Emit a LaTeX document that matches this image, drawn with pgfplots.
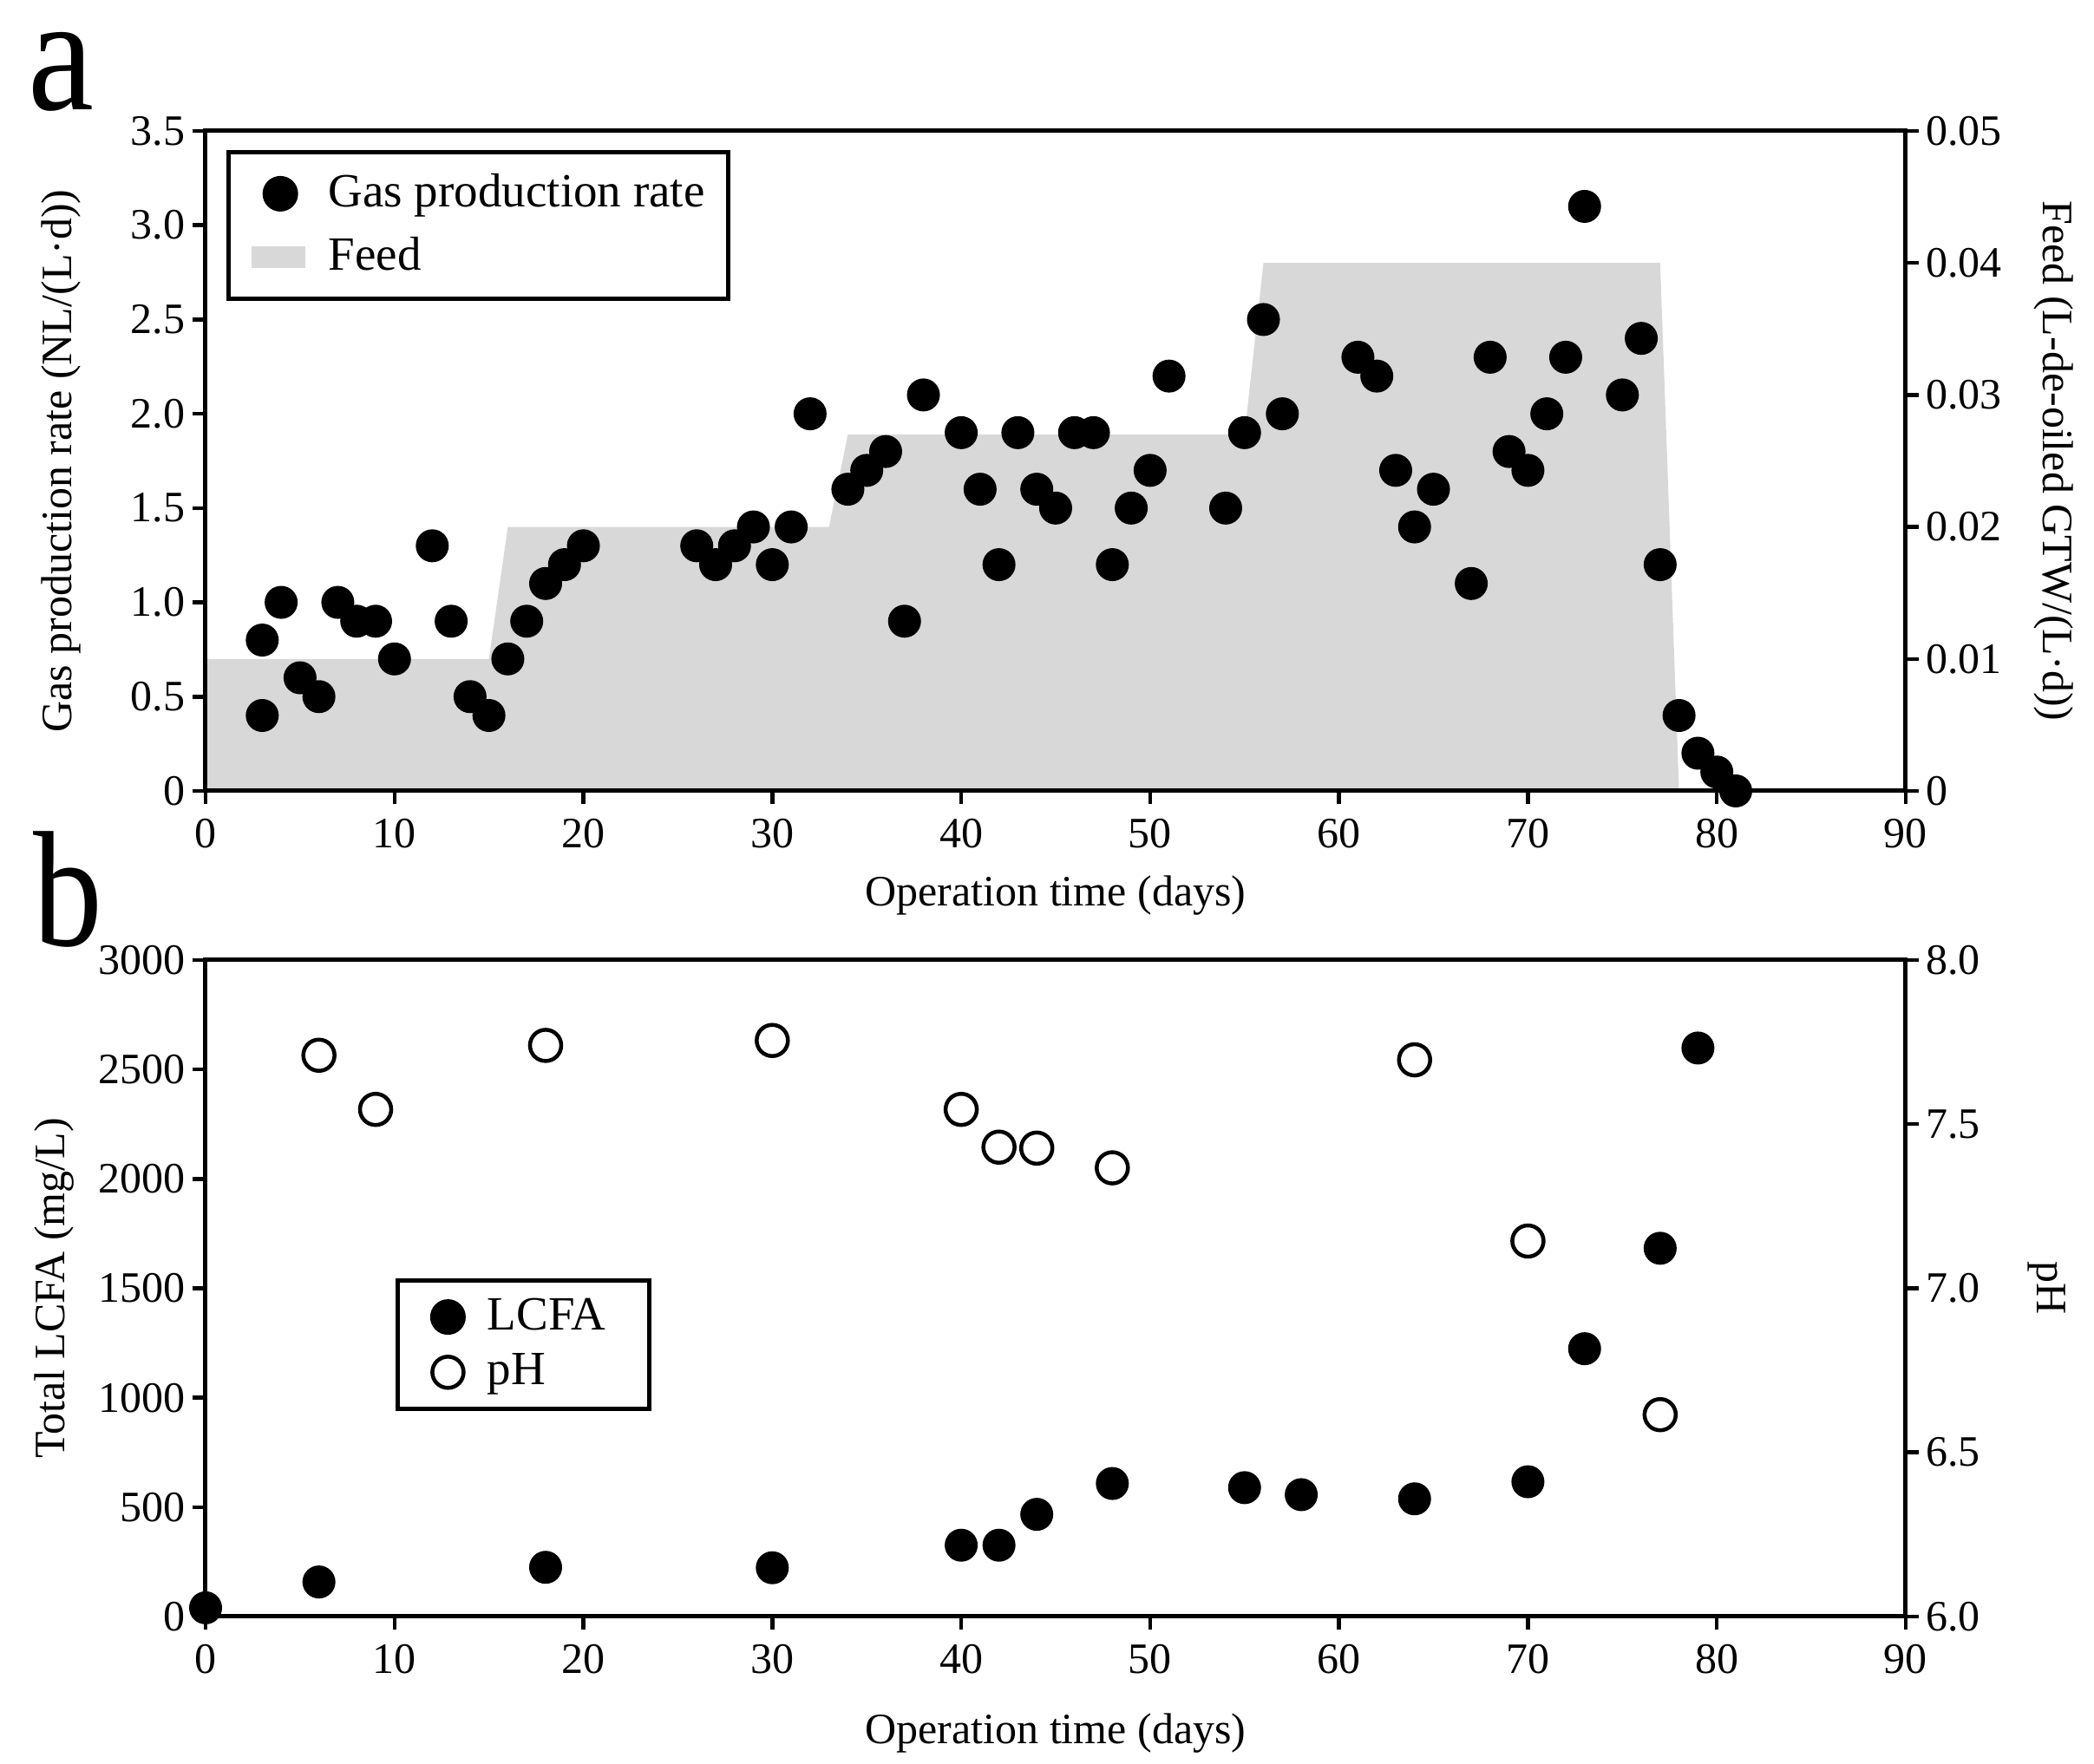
\documentclass[border=0pt]{standalone}
\usepackage{pgfplots}
\pgfplotsset{compat=1.18}
\usepackage{pgfplotstable}
\usepackage{fontspec}
\setmainfont{Liberation Serif}
\definecolor{feedgray}{RGB}{216,216,216}

\pgfplotstableread{
x y
0 0.01
15 0.01
16 0.02
33 0.02
34 0.027
55 0.027
56 0.04
77 0.04
78 0
}\feedtable

\pgfplotstableread{
x y
3 0.8
3 0.4
4 1.0
5 0.6
6 0.5
7 1.0
8 0.9
9 0.9
10 0.7
12 1.3
13 0.9
14 0.5
15 0.4
16 0.7
17 0.9
18 1.1
19 1.2
20 1.3
26 1.3
27 1.2
28 1.3
29 1.4
30 1.2
31 1.4
32 2.0
34 1.6
35 1.7
36 1.8
37 0.9
38 2.1
40 1.9
41 1.6
42 1.2
43 1.9
44 1.6
45 1.5
46 1.9
47 1.9
48 1.2
49 1.5
50 1.7
51 2.2
54 1.5
55 1.9
56 2.5
57 2.0
61 2.3
62 2.2
63 1.7
64 1.4
65 1.6
67 1.1
68 2.3
69 1.8
70 1.7
71 2.0
72 2.3
73 3.1
75 2.1
76 2.4
77 1.2
78 0.4
79 0.2
80 0.1
81 0.0
}\gastable

\pgfplotstableread{
x y
0 40
6 158
18 225
30 223
40 326
42 326
44 467
48 608
55 589
58 557
64 538
70 616
73 1224
77 1683
79 2598
}\lcfatable

\pgfplotstableread{
x y
6 7.71
9 7.545
18 7.74
30 7.755
40 7.545
42 7.43
44 7.427
48 7.367
64 7.696
70 7.144
77 6.615
}\phtable

\pgfplotsset{
  common/.style={
    scale only axis, width=392pt,
    xmin=0, xmax=90,
    tick align=outside,
    major tick length=3pt,
    axis line style={line width=1pt},
    every tick/.style={line width=0.9pt, black},
    /pgf/number format/assume math mode=true,
    /pgf/number format/1000 sep={},
    scaled y ticks=false,
    tick label style={font=\fontsize{10}{12}\selectfont},
    yticklabel style={inner xsep=1.5pt},
    label style={font=\fontsize{11}{13}\selectfont},
  },
  feedlegend/.style={legend image code/.code={\path[draw=none,fill=none] (0cm,0cm) -- (0.62cm,0cm); \fill[feedgray, draw=none] (0.07cm,-0.085cm) rectangle (0.5cm,0.085cm);}},
}

\begin{document}
\begin{tikzpicture}
\useasboundingbox (0,0) rectangle (482.8pt,406.8pt);

% ---------- panel a ----------
\begin{axis}[common, at={(47.4pt,224.4pt)}, anchor=south west, height=152.2pt,
  ymin=0, ymax=0.05,
  axis y line*=right, axis x line=none,
  ytick={0,0.01,0.02,0.03,0.04,0.05},
  yticklabels={0,0.01,0.02,0.03,0.04,0.05},
  every axis y label/.style={at={(axis description cs:1.087,0.5)}, rotate=-90, anchor=center},
  ylabel={Feed (L-de-oiled GTW/(L·d))},
]
\addplot[fill=feedgray, draw=none] table[x=x,y=y] {\feedtable} \closedcycle;
\end{axis}

\begin{axis}[common, at={(47.4pt,224.4pt)}, anchor=south west, height=152.2pt,
  ymin=0, ymax=3.5,
  xtick pos=lower, ytick pos=lower,
  xtick={0,10,...,90},
  ytick={0,0.5,1,1.5,2,2.5,3,3.5},
  yticklabels={0,0.5,1.0,1.5,2.0,2.5,3.0,3.5},
  every axis y label/.style={at={(axis description cs:-0.085,0.5)}, rotate=90, anchor=center},
  every axis x label/.style={at={(axis description cs:0.5,-0.159)}, anchor=center},
  ylabel={Gas production rate (NL/(L·d))},
  xlabel={Operation time (days)},
  legend style={at={(0.012,0.971)}, anchor=north west, draw=black, line width=1pt,
    font=\fontsize{11}{13}\selectfont, inner xsep=3.5pt, inner ysep=3pt,
    row sep=1.5pt, legend cell align=left},
]
\addplot[only marks, mark=*, mark size=3.6pt, black] table[x=x,y=y] {\gastable};
\addlegendentry{Gas production rate}
\addlegendimage{feedlegend}
\addlegendentry{Feed}
\end{axis}

% ---------- panel b ----------
\begin{axis}[common, at={(47.4pt,34pt)}, anchor=south west, height=151.4pt,
  ymin=6, ymax=8,
  axis y line*=right, axis x line=none,
  ytick={6,6.5,7,7.5,8},
  yticklabels={6.0,6.5,7.0,7.5,8.0},
  every axis y label/.style={at={(axis description cs:1.083,0.5)}, rotate=-90, anchor=center},
  ylabel={pH},
]
\addplot[only marks, mark=o, mark size=3.6pt, line width=0.9pt, black] table[x=x,y=y] {\phtable};
\end{axis}

\begin{axis}[common, at={(47.4pt,34pt)}, anchor=south west, height=151.4pt,
  ymin=0, ymax=3000,
  xtick pos=lower, ytick pos=lower,
  xtick={0,10,...,90},
  ytick={0,500,...,3000},
  every axis y label/.style={at={(axis description cs:-0.089,0.5)}, rotate=90, anchor=center},
  every axis x label/.style={at={(axis description cs:0.5,-0.178)}, anchor=center},
  ylabel={Total LCFA (mg/L)},
  xlabel={Operation time (days)},
  legend style={at={(0.1117,0.515)}, anchor=north west, draw=black, line width=1pt,
    font=\fontsize{11}{13}\selectfont, inner xsep=8pt, inner ysep=2pt,
    row sep=0pt, legend cell align=left},
]
\addplot[only marks, mark=*, mark size=3.6pt, black] table[x=x,y=y] {\lcfatable};
\addlegendentry{\hspace{3.5pt}LCFA\hspace{4.5pt}}
\addlegendimage{only marks, mark=o, mark size=3.6pt, line width=0.9pt, black}
\addlegendentry{\hspace{3.5pt}pH}
\end{axis}

\node[anchor=base west, inner sep=0pt, font=\fontsize{38}{40}\selectfont] at (6.4pt,381.5pt) {\scalebox{0.9}[1]{a}};
\node[anchor=base west, inner sep=0pt, font=\fontsize{38}{40}\selectfont] at (7.4pt,188.6pt) {\scalebox{0.84}[1]{b}};
\end{tikzpicture}
\end{document}
